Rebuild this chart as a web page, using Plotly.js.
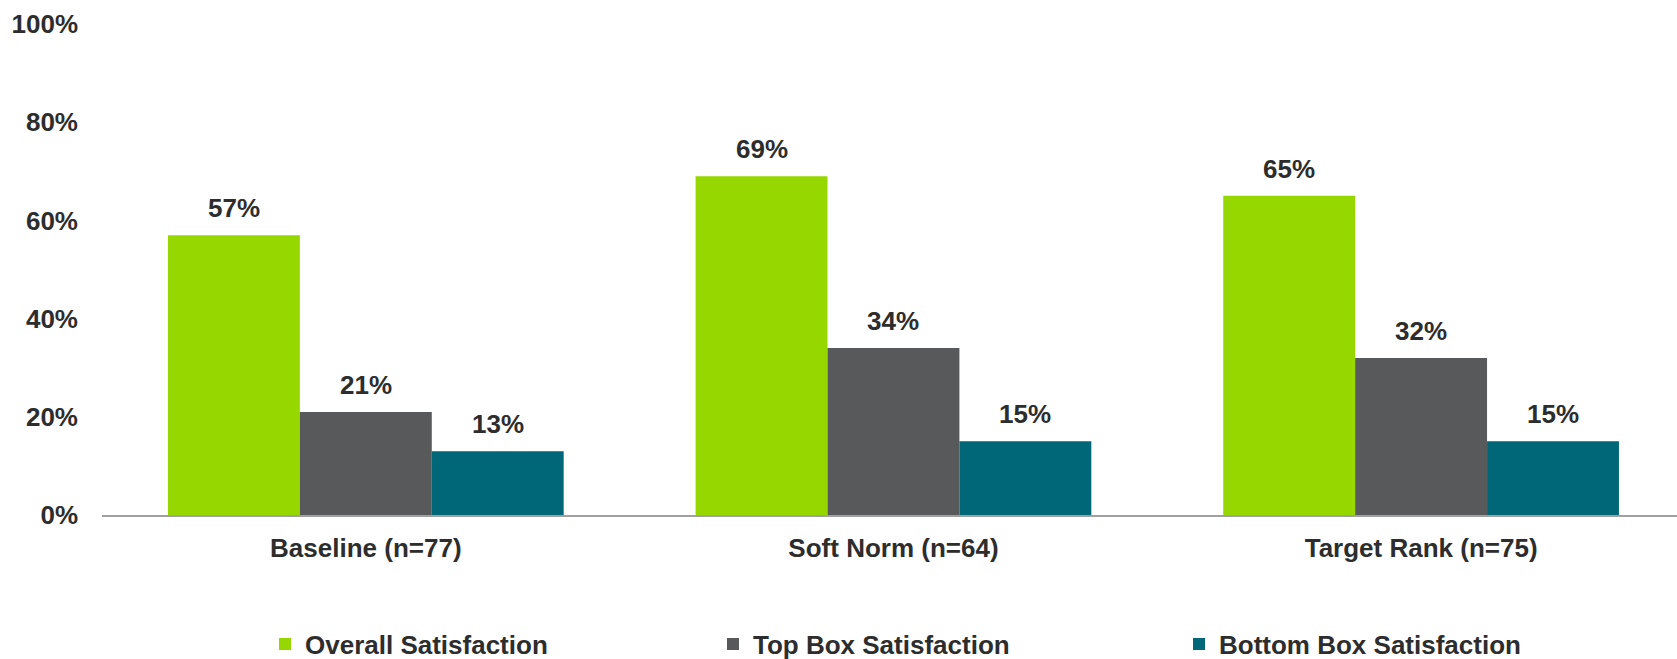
<!DOCTYPE html>
<html>
<head>
<meta charset="utf-8">
<script src="https://cdn.plot.ly/plotly-3.0.1.min.js"></script>
<style>html,body{margin:0;padding:0;background:#fff;}#chart{width:1677px;height:659px;}</style>
</head>
<body>
<div id="chart"></div>
<script>
const categories = ["Baseline (n=77)", "Soft Norm (n=64)", "Target Rank (n=75)"];
const seriesNames = ["Overall Satisfaction", "Top Box Satisfaction", "Bottom Box Satisfaction"];
const overall = [57, 69, 65];
const topBox = [21, 34, 32];
const bottomBox = [13, 15, 15];
const yTicks = [0, 20, 40, 60, 80, 100];

const colors = ["#97d700", "#58595b", "#006778"];
const textColor = "#2d2d2d";
const fontFam = "Liberation Sans, Arial, sans-serif";
const seriesValues = [overall, topBox, bottomBox];
const legendIds = ["legend", "legend2", "legend3"];
const legendX = [265, 713, 1179];
const bargap = 0.25;
const slot = (1 - bargap) / seriesValues.length;

const traces = seriesValues.map((vals, j) => ({
  type: "bar",
  name: seriesNames[j],
  x: categories,
  y: vals,
  marker: {color: colors[j]},
  legend: legendIds[j],
  hoverinfo: "skip"
}));

const annotations = [];
seriesValues.forEach((vals, j) => {
  vals.forEach((v, i) => {
    annotations.push({
      xref: "x", yref: "y",
      x: i + (j - (seriesValues.length - 1) / 2) * slot,
      y: v,
      text: v + "%",
      showarrow: false,
      xanchor: "center", yanchor: "bottom",
      yshift: 10,
      font: {family: fontFam, size: 26, color: textColor, weight: 700}
    });
  });
});

const W = 1677, H = 659;
const legendCommon = (px) => ({
  orientation: "h", xref: "container", yref: "container",
  x: px / W, y: 1 - 644 / H, xanchor: "left", yanchor: "middle",
  bgcolor: "rgba(0,0,0,0)", borderwidth: 0,
  font: {family: fontFam, size: 26, color: textColor, weight: 700}
});

const layout = {
  width: W, height: H,
  margin: {l: 102, r: 0, t: 24, b: 144, autoexpand: false},
  paper_bgcolor: "#ffffff", plot_bgcolor: "#ffffff",
  barmode: "group", bargap: bargap, bargroupgap: 0,
  showlegend: true,
  legend: legendCommon(legendX[0]),
  legend2: legendCommon(legendX[1]),
  legend3: legendCommon(legendX[2]),
  xaxis: {
    type: "category",
    range: [-0.5, 2.485],
    showline: true, linecolor: "#a0a0a0", linewidth: 2,
    ticks: "", showgrid: false, zeroline: false,
    ticklabelstandoff: 9,
    tickfont: {family: fontFam, size: 26, color: textColor, weight: 700}
  },
  yaxis: {
    range: [0, 100],
    tickvals: yTicks,
    ticktext: yTicks.map(t => t + "%"),
    showline: false, showgrid: false, zeroline: false, ticks: "",
    ticklabelstandoff: 23,
    tickfont: {family: fontFam, size: 26, color: textColor, weight: 700}
  },
  annotations: annotations,
  font: {family: fontFam, color: textColor}
};

Plotly.newPlot("chart", traces, layout, {displayModeBar: false, staticPlot: true});
</script>
</body>
</html>
